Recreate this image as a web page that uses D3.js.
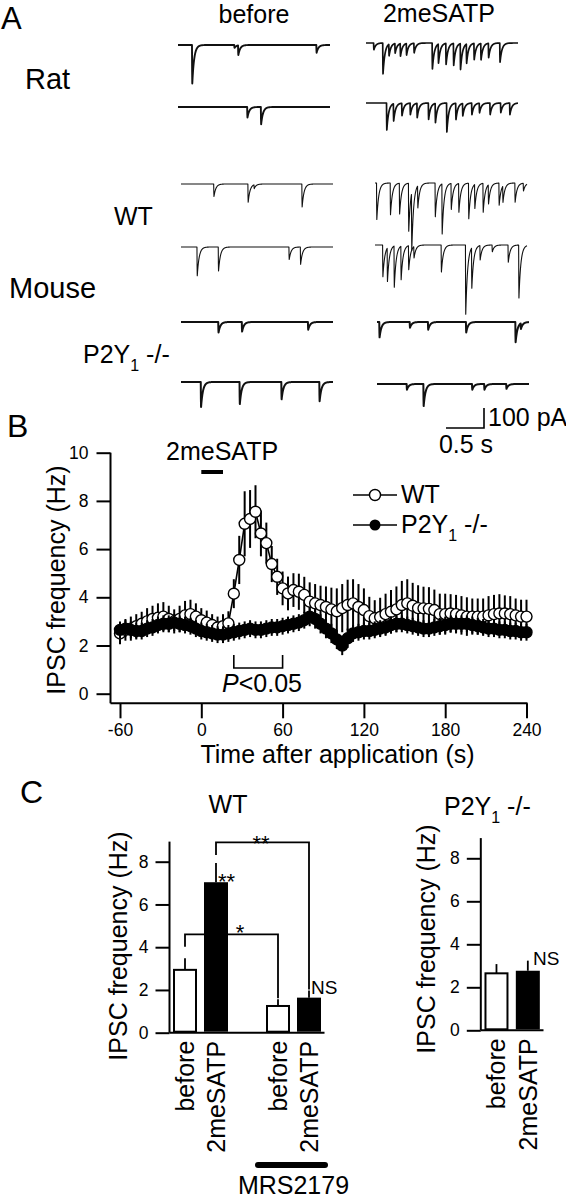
<!DOCTYPE html>
<html><head><meta charset="utf-8">
<script src="https://cdn.jsdelivr.net/npm/d3@7"></script>
<style>
html,body{margin:0;padding:0;background:#fff;}
svg{display:block;font-family:"Liberation Sans",Arial,Helvetica,sans-serif;}
</style></head><body>
<svg id="fig" width="566" height="1199"></svg>
<script>
// ---------------- DATA ----------------
// Panel A: spontaneous IPSC events, [time (s, 0-2), amplitude (pA)]
const ratBefore1 = [[0.184,200],[0.74,15],[0.79,50],[1.82,40]];
const ratBefore2 = [[0.91,55],[1.09,90]];
const rat2me1 = [[0.10,35],[0.22,160],[0.30,60],[0.38,50],[0.45,65],[0.53,60],[0.63,50],[0.87,135],[0.95,100],[1.05,110],[1.15,115],[1.24,135],[1.32,100],[1.42,85],[1.51,85],[1.61,75],[1.76,100]];
const rat2me2 = [[0.27,140],[0.36,90],[0.47,65],[0.58,60],[0.67,75],[0.82,85],[0.91,100],[1.06,150],[1.18,85],[1.27,65],[1.39,60],[1.49,50],[1.63,60],[1.77,50],[1.89,60]];
const wtBefore1 = [[0.43,65],[0.88,95],[0.96,20],[1.59,120]];
const wtBefore2 = [[0.21,150],[0.49,125],[1.42,65],[1.57,90]];
const wt2me1 = [[0.02,190],[0.20,165],[0.32,160],[0.44,250],[0.48,300],[0.56,115],[0.79,175],[0.88,260],[1.0,135],[1.1,150],[1.23,185],[1.31,125],[1.42,150],[1.49,100],[1.63,115],[1.68,85],[1.84,100],[1.95,40]];
const wt2me2 = [[0.10,165],[0.16,175],[0.25,215],[0.34,175],[0.44,125],[0.51,60],[0.87,140],[1.19,360],[1.27,210],[1.38,75],[1.54,35],[1.75,90],[1.89,275]];
const koBefore1 = [[0.49,55],[0.80,50],[1.67,40]];
const koBefore2 = [[0.26,130],[0.77,115],[1.32,90],[1.82,100]];
const ko2me1 = [[0.03,80],[0.43,30],[0.67,40],[1.17,55],[1.82,105],[1.89,30]];
const ko2me2 = [[0.39,30],[0.61,115],[1.25,30],[1.41,30],[1.70,25]];

// Panel B: IPSC frequency time course
const times = [-60,-56,-52,-48,-44,-40,-36,-32,-28,-24,-20,-16,-12,-8,-4,0,4,8,12,16,20,24,28,32,36,40,44,48,52,56,60,64,68,72,76,80,84,88,92,96,100,104,108,112,116,120,124,128,132,136,140,144,148,152,156,160,164,168,172,176,180,184,188,192,196,200,204,208,212,216,220,224,228,232,236,240];
const wtMean = [2.5,2.65,2.7,2.8,2.9,3.0,3.1,3.15,3.2,3.1,
  3.0,3.1,3.25,3.3,3.2,3.05,2.95,2.85,2.75,2.8,
  2.92,4.15,5.55,7.05,7.25,7.55,6.65,6.25,5.38,4.85,
  4.37,4.16,4.3,4.23,4.1,3.82,3.75,3.68,3.6,3.5,
  3.42,3.55,3.68,3.75,3.6,3.47,3.22,3.13,3.18,3.3,
  3.4,3.5,3.68,3.75,3.65,3.55,3.54,3.52,3.47,3.3,
  3.3,3.33,3.3,3.25,3.2,3.2,3.2,3.2,3.25,3.3,
  3.33,3.33,3.3,3.25,3.2,3.2];
const wtErr = [0.45,0.45,0.5,0.5,0.5,
  0.55,0.55,0.6,0.6,0.55,0.5,0.55,0.6,0.6,0.55,0.5,0.5,0.45,0.45,0.5,0.5,
  0.6,1.0,1.35,1.2,1.1,0.95,0.85,0.75,0.75,0.7,
  0.7,0.7,0.75,0.75,0.8,
  0.8,0.8,0.85,0.9,0.95,
  1.0,1.05,1.0,0.95,0.9,
  0.8,0.75,0.8,0.85,0.9,
  0.95,1.0,1.0,0.95,0.95,0.9,0.9,
  0.85,0.85,0.85,0.8,0.8,0.8,0.8,0.75,0.75,0.75,0.8,0.8,0.8,0.75,0.75,0.7,0.7,0.7];
const koMean = [2.65,2.7,2.65,2.6,2.6,2.7,2.75,2.85,2.9,2.9,
  2.95,2.9,2.85,2.8,2.7,2.6,2.55,2.5,2.45,2.45,
  2.5,2.55,2.6,2.65,2.7,2.65,2.65,2.7,2.75,2.75,
  2.8,2.85,2.9,2.95,3.05,3.2,3.1,2.9,2.7,2.5,
  2.25,2.0,2.3,2.5,2.55,2.6,2.6,2.65,2.7,2.75,
  2.85,2.9,2.9,2.85,2.8,2.75,2.7,2.7,2.75,2.8,
  2.85,2.9,2.9,2.9,2.9,2.85,2.8,2.75,2.7,2.7,
  2.65,2.65,2.6,2.6,2.55,2.55];
const koErr = [0.35,0.35,0.35,0.35,0.35,0.35,0.35,0.35,0.35,0.35,
  0.35,0.35,0.35,0.35,0.35,0.35,0.35,0.35,0.35,0.35,
  0.35,0.35,0.35,0.35,0.35,0.35,0.35,0.35,0.35,0.35,
  0.35,0.35,0.35,0.35,0.35,0.4,0.4,0.4,0.4,0.4,
  0.4,0.4,0.4,0.35,0.35,0.35,0.35,0.35,0.35,0.35,
  0.35,0.35,0.35,0.35,0.35,0.35,0.35,0.35,0.35,0.35,
  0.35,0.35,0.35,0.35,0.35,0.35,0.35,0.35,0.35,0.35,
  0.35,0.35,0.35,0.35,0.35,0.35];
const bTicksX = [-60,0,60,120,180,240];
const bTicksY = [0,2,4,6,8,10];

// Panel C: bar charts
const wtSlots = ["before","2meSATP","gap","before (MRS)","2meSATP (MRS)"];
const wtBarKeys = ["before","2meSATP","before (MRS)","2meSATP (MRS)"];
const wtBarLabels = ["before","2meSATP","before","2meSATP"];
const wtBarVals = [2.94,7.04,1.25,1.64];
const wtBarErrs = [0.54,0.9,0.31,0.33];
const koBarKeys = ["before","2meSATP"];
const koBarLabels = ["before","2meSATP"];
const koBarVals = [2.65,2.77];
const koBarErrs = [0.43,0.47];
const cTicksY = [0,2,4,6,8];

// ---------------- DRAW ----------------
const svg = d3.select("#fig");
const ink = "#000";
const plain = d => String(d);

function text(x, y, s, size, anchor) {
  return svg.append("text").attr("x", x).attr("y", y)
    .attr("font-size", size).attr("text-anchor", anchor || "start")
    .attr("fill", ink).text(s);
}
function p2y(g, x, y, size, anchor) {
  const t = g.append("text").attr("x", x).attr("y", y).attr("font-size", size)
    .attr("text-anchor", anchor || "start").attr("fill", ink);
  t.append("tspan").text("P2Y");
  t.append("tspan").attr("font-size", size * 0.64).attr("dy", size * 0.3).text("1");
  t.append("tspan").attr("dy", -size * 0.3).text(" -/-");
  return t;
}
function line(x1, y1, x2, y2, w) {
  return svg.append("line").attr("x1", x1).attr("y1", y1).attr("x2", x2).attr("y2", y2)
    .attr("stroke", ink).attr("stroke-width", w || 2);
}

// ---- Panel A ----
text(1, 29, "A", 31);
text(254, 23, "before", 25, "middle");
text(439, 22, "2meSATP", 25, "middle");
text(25, 89, "Rat", 29);
text(114, 225, "WT", 25);
text(9, 298, "Mouse", 29);
p2y(svg, 83, 363, 25);

const traceLayout = [
  {ev: ratBefore1, x0: 178, y0: 45, sw: 1.9},
  {ev: ratBefore2, x0: 178, y0: 107, sw: 1.9},
  {ev: rat2me1, x0: 366, y0: 43, sw: 1.7},
  {ev: rat2me2, x0: 366, y0: 103, sw: 1.7},
  {ev: wtBefore1, x0: 181, y0: 184, sw: 1.1},
  {ev: wtBefore2, x0: 181, y0: 247, sw: 1.1},
  {ev: wt2me1, x0: 375, y0: 183, sw: 1.1},
  {ev: wt2me2, x0: 375, y0: 245, sw: 1.1},
  {ev: koBefore1, x0: 181, y0: 322, sw: 2},
  {ev: koBefore2, x0: 181, y0: 382, sw: 2},
  {ev: ko2me1, x0: 377, y0: 322, sw: 2},
  {ev: ko2me2, x0: 377, y0: 384, sw: 2}
];
const sampleT = d3.range(0, 2.0001, 0.002);
const rise = 0.003, tau = 0.025;
traceLayout.forEach(tr => {
  const tx = d3.scaleLinear().domain([0, 2]).range([tr.x0, tr.x0 + 152]);
  const ty = d3.scaleLinear().domain([0, 100]).range([tr.y0, tr.y0 + 20]);
  const pts = sampleT.map(t => {
    let I = 0;
    tr.ev.forEach(([t0, a]) => {
      const dt = t - t0;
      if (dt >= 0) I += dt < rise ? a * dt / rise : a * Math.exp(-(dt - rise) / tau);
    });
    return [t, I];
  });
  svg.append("path").attr("d", d3.line().x(d => tx(d[0])).y(d => ty(d[1]))(pts))
    .attr("fill", "none").attr("stroke", "#111").attr("stroke-width", tr.sw)
    .attr("stroke-linejoin", "round");
});
// scale bar
const sbx = d3.scaleLinear().domain([0, 0.5]).range([446, 484]);
const sby = d3.scaleLinear().domain([0, 100]).range([428, 408]);
svg.append("path").attr("d", `M${sbx(0)},${sby(0)}H${sbx(0.5)}V${sby(100)}`)
  .attr("fill", "none").attr("stroke", ink).attr("stroke-width", 1.6);
text(488, 426, "100 pA", 25);
text(466, 453, "0.5 s", 25, "middle");

// ---- Panel B ----
text(7, 437, "B", 32);
const xB = d3.scaleLinear().domain([-60, 240]).range([120, 526.5]);
const yB = d3.scaleLinear().domain([0, 10]).range([693.7, 452.7]);
const axisYB = 703.3, axisXB = 110.5;
line(axisXB, yB(10), axisXB, axisYB, 2);
line(axisXB, axisYB, 527.5, axisYB, 2);
const gyB = svg.append("g").attr("transform", `translate(${axisXB},0)`)
  .call(d3.axisLeft(yB).tickValues(bTicksY).tickFormat(plain).tickSize(14).tickPadding(8));
const gxB = svg.append("g").attr("transform", `translate(0,${axisYB})`)
  .call(d3.axisBottom(xB).tickValues(bTicksX).tickFormat(plain).tickSize(15).tickPadding(5));
[gyB, gxB].forEach(g => {
  g.select(".domain").remove();
  g.selectAll(".tick line").attr("stroke", ink).attr("stroke-width", 2);
  g.selectAll(".tick text").attr("font-size", 17.5).attr("fill", ink)
    .attr("font-family", '"Liberation Sans", Arial, sans-serif');
});
text(337.5, 763, "Time after application (s)", 25, "middle");
svg.append("text").attr("transform", "translate(65,580) rotate(-90)")
  .attr("text-anchor", "middle").attr("font-size", 25).attr("fill", ink)
  .text("IPSC frequency (Hz)");

// application bar
text(166, 460, "2meSATP", 25);
svg.append("line").attr("x1", xB(0)).attr("x2", xB(16)).attr("y1", 472).attr("y2", 472)
  .attr("stroke", ink).attr("stroke-width", 4);

// P<0.05 bracket
svg.append("path").attr("d", `M${xB(24)},655V668H${xB(60)}V655`)
  .attr("fill", "none").attr("stroke", ink).attr("stroke-width", 1.6);
const pt = svg.append("text").attr("x", 262).attr("y", 692).attr("font-size", 25)
  .attr("text-anchor", "middle").attr("fill", ink);
pt.append("tspan").attr("font-style", "italic").text("P");
pt.append("tspan").text("<0.05");

function series(mean, err, filled) {
  const data = times.map((t, i) => ({t, v: mean[i], e: err[i]}));
  const g = svg.append("g");
  g.selectAll("line.err").data(data).enter().append("line")
    .attr("x1", d => xB(d.t)).attr("x2", d => xB(d.t))
    .attr("y1", d => yB(d.v - d.e)).attr("y2", d => yB(d.v + d.e))
    .attr("stroke", ink).attr("stroke-width", 2);
  g.append("path").datum(data)
    .attr("d", d3.line().x(d => xB(d.t)).y(d => yB(d.v)))
    .attr("fill", "none").attr("stroke", ink).attr("stroke-width", 1.6);
  g.selectAll("circle").data(data).enter().append("circle")
    .attr("cx", d => xB(d.t)).attr("cy", d => yB(d.v)).attr("r", 5.5)
    .attr("fill", filled ? ink : "#fff").attr("stroke", ink).attr("stroke-width", 1.4);
}
series(wtMean, wtErr, false);
series(koMean, koErr, true);

// legend
line(353, 495, 397, 495, 1.6);
svg.append("circle").attr("cx", 375).attr("cy", 495).attr("r", 5.5)
  .attr("fill", "#fff").attr("stroke", ink).attr("stroke-width", 1.4);
text(401, 503, "WT", 25);
line(353, 525, 397, 525, 1.6);
svg.append("circle").attr("cx", 375).attr("cy", 525).attr("r", 5.5).attr("fill", ink);
p2y(svg, 401, 533, 25);

// ---- Panel C ----
text(20, 803, "C", 32);
text(228, 813, "WT", 25, "middle");
p2y(svg, 444, 815, 25);

function barChart(opts) {
  const y = d3.scaleLinear().domain([0, 8]).range([opts.y0, opts.y8]);
  const x = d3.scaleBand().domain(opts.slots).range([opts.xL, opts.xR]);
  line(opts.xL, y(8.94), opts.xL, y(0), 2);
  line(opts.xL, y(0), opts.xR, y(0), 2);
  const ga = svg.append("g").attr("transform", `translate(${opts.xL},0)`)
    .call(d3.axisLeft(y).tickValues(cTicksY).tickFormat(plain).tickSize(14).tickPadding(7));
  ga.select(".domain").remove();
  ga.selectAll(".tick line").attr("stroke", ink).attr("stroke-width", 2);
  ga.selectAll(".tick text").attr("font-size", 17.5).attr("fill", ink)
    .attr("font-family", '"Liberation Sans", Arial, sans-serif');
  const bw = 24;
  const bars = opts.keys.map((k, i) => ({k, label: opts.labels[i], v: opts.vals[i], e: opts.errs[i],
    cx: x(k) + x.bandwidth() / 2}));
  bars.forEach(b => {
    line(b.cx, y(b.v), b.cx, y(b.v + b.e), 1.8);
  });
  svg.append("text").attr("transform", `translate(${opts.yTitleX},${opts.yTitleY}) rotate(-90)`)
    .attr("text-anchor", "middle").attr("font-size", 25).attr("fill", ink)
    .text("IPSC frequency (Hz)");
  return {x, y, bars, bw};
}
function drawBars(ch) {
  ch.bars.forEach(b => {
    const before = b.label === "before";
    svg.append("rect").attr("x", b.cx - ch.bw / 2 + (before ? 1 : 0)).attr("y", ch.y(b.v))
      .attr("width", ch.bw - (before ? 2 : 0)).attr("height", ch.y(0) - ch.y(b.v) - 1)
      .attr("fill", before ? "#fff" : ink).attr("stroke", ink).attr("stroke-width", before ? 2 : 0);
    svg.append("text").attr("transform", `translate(${b.cx},${ch.y(0) + 8}) rotate(-90)`)
      .attr("text-anchor", "end").attr("dy", "0.36em").attr("font-size", 25).attr("fill", ink)
      .text(b.label);
  });
}

const cL = barChart({slots: wtSlots, keys: wtBarKeys, labels: wtBarLabels, vals: wtBarVals, errs: wtBarErrs,
  xL: 169.5, xR: 324.5, y0: 1032.7, y8: 861.7, yTitleX: 127, yTitleY: 946});
// brackets (drawn before bars so the black bar covers them)
const bL = cL.bars;
svg.append("path").attr("d", `M${bL[0].cx},946.7V${cL.y(4.6)}H${bL[2].cx}V${cL.y(bL[2].v + bL[2].e) - 1}`)
  .attr("fill", "none").attr("stroke", ink).attr("stroke-width", 1.8);
svg.append("path").attr("d", `M${bL[1].cx},855V${cL.y(8.9)}H${bL[3].cx}V${cL.y(bL[3].v + bL[3].e) - 1}`)
  .attr("fill", "none").attr("stroke", ink).attr("stroke-width", 1.8);
drawBars(cL);
text(240, 939.5, "*", 22, "middle");
text(261, 850.5, "**", 22, "middle");
text(218, 889, "**", 22);
text(311, 994, "NS", 19);
svg.append("line").attr("x1", 258).attr("x2", 325).attr("y1", 1165).attr("y2", 1165)
  .attr("stroke", ink).attr("stroke-width", 6).attr("stroke-linecap", "round");
text(293.5, 1194, "MRS2179", 25, "middle");

const cR = barChart({slots: koBarKeys, keys: koBarKeys, labels: koBarLabels, vals: koBarVals, errs: koBarErrs,
  xL: 480.8, xR: 543.5, y0: 1030.3, y8: 858.3, yTitleX: 435, yTitleY: 939});
drawBars(cR);
text(533, 965, "NS", 19);
</script>
</body></html>
